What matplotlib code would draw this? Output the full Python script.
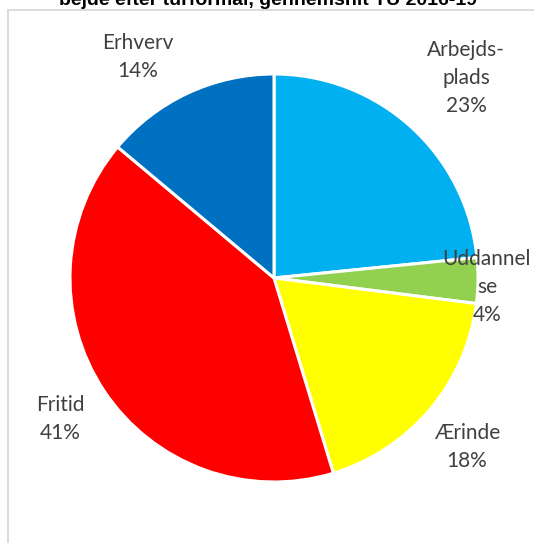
import matplotlib
matplotlib.use("Agg")
import matplotlib.pyplot as plt
from matplotlib.lines import Line2D

# Kørte km i arbejde fordelt på turformål (andele i pct.)
categories = ["Arbejdsplads", "Uddannelse", "Ærinde", "Fritid", "Erhverv"]
shares = [23.4, 3.6, 18.3, 40.8, 13.9]
label_texts = ["Arbejds-\nplads", "Uddannel\nse", "Ærinde", "Fritid", "Erhverv"]
colors = ["#00B0F0", "#92D050", "#FFFF00", "#FF0000", "#0070C0"]
title_line = "bejde efter turformål, gennemsnit TU 2016-19"

W, H = 534, 543
fig = plt.figure(figsize=(W / 100, H / 100), dpi=100)
ax = fig.add_axes([0, 0, 1, 1])

def py(y):
    # pixel row measured from the top -> data y
    return H - y

center = (274, py(278))
radius = 204
wedges, _ = ax.pie(shares, colors=colors, startangle=90, counterclock=False,
                   center=center, radius=radius, frame=True,
                   wedgeprops=dict(edgecolor="white", linewidth=2.2))
ax.set_xlim(0, W)
ax.set_ylim(0, H)
ax.set_aspect("equal")
ax.axis("off")

# chart area frame (left and top edges visible)
frame_col = "#D9D9D9"
ax.add_line(Line2D([8, 8], [py(10), py(H + 5)], color=frame_col, lw=1.3))
ax.add_line(Line2D([8, W + 5], [py(10), py(10)], color=frame_col, lw=1.3))

# data label positions (centre of each text block, pixels from top-left)
label_pos = [(466, 78), (487, 287), (467, 447), (60, 419), (138, 57)]
for txt, val, (lx, ly) in zip(label_texts, shares, label_pos):
    ax.text(lx, py(ly), f"{txt}\n{val:.0f}%", ha="center", va="center",
            fontsize=15, color="#404040", family=["Lato", "DejaVu Sans"],
            linespacing=1.5, multialignment="center")

# last line of the chart title, running above the chart area
ax.text(268, py(5), title_line, ha="center", va="baseline", fontsize=14,
        fontweight="bold", color="black", family=["Liberation Sans", "DejaVu Sans"])

fig.savefig("out.png", dpi=100)
